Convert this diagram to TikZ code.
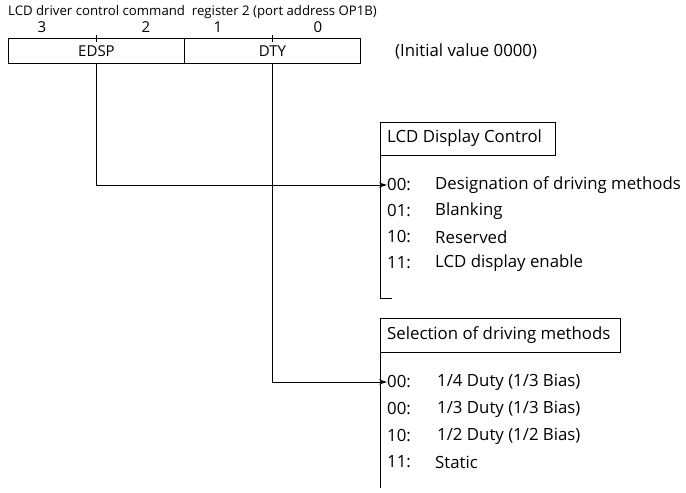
\documentclass[tikz,border=0pt]{standalone}
\usepackage{fontspec}
\setmainfont{Open Sans}
\usetikzlibrary{arrows.meta}
\begin{document}
\begin{tikzpicture}[x=1pt,y=-1pt,
  txt/.style={anchor=west,inner sep=0pt,font=\fontsize{16.8}{18}\selectfont},
  ttl/.style={anchor=west,inner sep=0pt,font=\fontsize{13.2}{15}\selectfont},
  dig/.style={inner sep=0pt,font=\fontsize{15}{17}\selectfont},
  reg/.style={draw,line width=1pt,minimum height=25pt,inner sep=0pt,font=\fontsize{15}{17}\selectfont},
  hbox/.style={draw,line width=0.9pt,anchor=north west,inner sep=0pt},
  conn/.style={line width=0.9pt,-{Stealth[length=8pt,width=5pt]}},
  brk/.style={line width=0.9pt}]
\useasboundingbox (0,0) rectangle (686,493);
\node[ttl] (title) at (8,12) {LCD driver control command\ \ register 2 (port address OP1B)};
\node[dig] (b3) at (42,27) {3};
\node[dig] (b2) at (146,27) {2};
\node[dig] (b1) at (218,27) {1};
\node[dig] (b0) at (318,27) {0};
\node[reg,minimum width=176pt,anchor=north west] (edsp) at (8,38) {EDSP};
\node[reg,minimum width=176pt,anchor=north west] (dty) at (184,38) {DTY};
\draw[line width=0.8pt] (96,35) -- (96,42);
\draw[line width=0.8pt] (272,35) -- (272,42);
\node[txt] (init) at (395,51) {(Initial value 0000)};
% box 1
\node[hbox,minimum width=175pt,minimum height=33pt] (h1) at (380,122) {};
\node[txt] (h1t) at (387,138.5) {LCD Display Control};
\coordinate (b1end) at (392,298);
\draw[brk] (h1.south west) -- (h1.south west |- b1end) -- (b1end);
\node[txt] (c10) at (387,185) {00:};
\node[txt] (t10) at (435,185) {Designation of driving methods};
\node[txt] (c11) at (387,211) {01:};
\node[txt] (t11) at (435,211) {Blanking};
\node[txt] (c12) at (387,237) {10:};
\node[txt] (t12) at (435,237) {Reserved};
\node[txt] (c13) at (387,263) {11:};
\node[txt] (t13) at (435,263) {LCD display enable};
% box 2
\node[hbox,minimum width=240pt,minimum height=34pt] (h2) at (380,318) {};
\node[txt] (h2t) at (387,335) {Selection of driving methods};
\coordinate (b2end) at (380,488);
\draw[brk] (h2.south west) -- (b2end);
\node[txt] (c20) at (387,382) {00:};
\node[txt] (t20) at (437,382) {1/4 Duty (1/3 Bias)};
\node[txt] (c21) at (387,409) {00:};
\node[txt] (t21) at (437,409) {1/3 Duty (1/3 Bias)};
\node[txt] (c22) at (387,436) {10:};
\node[txt] (t22) at (437,436) {1/2 Duty (1/2 Bias)};
\node[txt] (c23) at (387,462) {11:};
\node[txt] (t23) at (435,462) {Static};
% connectors
\coordinate (e0) at (96,63);
\coordinate (d0) at (272,63);
\draw[conn] (e0) |- (c10.west);
\draw[conn] (d0) |- (c20.west);
\end{tikzpicture}
\end{document}
